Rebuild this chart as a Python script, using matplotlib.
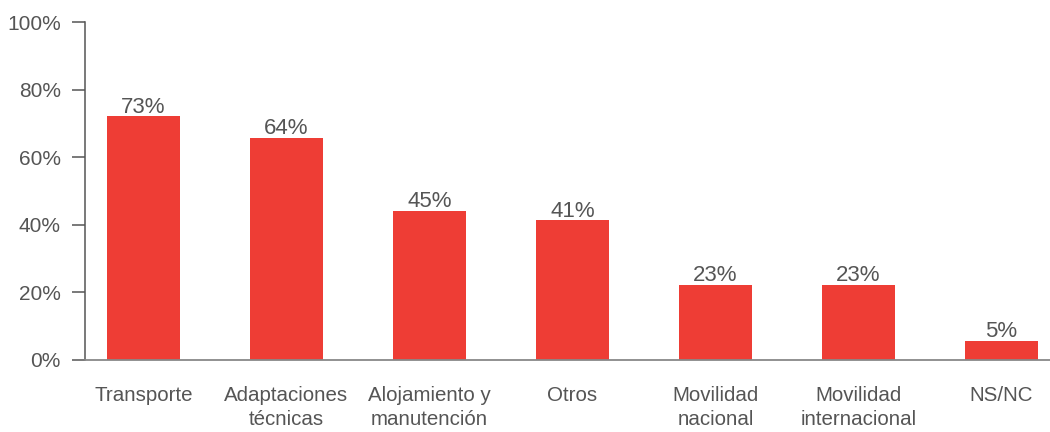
import matplotlib
matplotlib.use("Agg")
import matplotlib.pyplot as plt
import numpy as np

# data
categories = ["Transporte", "Adaptaciones\ntécnicas", "Alojamiento y\nmanutención",
              "Otros", "Movilidad\nnacional", "Movilidad\ninternacional", "NS/NC"]
bar_heights = [72.2, 65.8, 44.1, 41.4, 22.2, 22.2, 5.7]
bar_labels = ["73%", "64%", "45%", "41%", "23%", "23%", "5%"]
yticks = [0, 20, 40, 60, 80, 100]
ytick_labels = ["0%", "20%", "40%", "60%", "80%", "100%"]

red = "#EE3D35"
grey_txt = "#555555"

plt.rcParams["font.family"] = ["Liberation Sans", "DejaVu Sans"]

fig = plt.figure(figsize=(10.5, 4.32), dpi=100)
ax = fig.add_axes([0.081, 0.1667, 0.919, 0.7823])

x = np.arange(len(categories))
bars = ax.bar(x, bar_heights, width=0.51, color=red, zorder=2)

# value labels on top of bars
for b, lab in zip(bars, bar_labels):
    ax.annotate(lab, (b.get_x() + b.get_width() / 2, b.get_height()),
                xytext=(0, 2.5), textcoords="offset points",
                ha="center", va="baseline", fontsize=16, color=grey_txt)

ax.set_xlim(-0.409, 6.34)
ax.set_ylim(0, 100)
ax.set_yticks(yticks)
ax.set_yticklabels(ytick_labels)
ax.set_xticks(x)
ax.set_xticklabels(categories, linespacing=1.32)

ax.spines["top"].set_visible(False)
ax.spines["right"].set_visible(False)
ax.spines["left"].set_color("#555555")
ax.spines["bottom"].set_color("#888888")
ax.spines["left"].set_linewidth(1.1)
ax.spines["bottom"].set_linewidth(1.3)

ax.tick_params(axis="y", length=9.5, width=1.1, color="#555555", pad=8,
               labelsize=15, labelcolor=grey_txt)
ax.tick_params(axis="x", length=0, pad=19, labelsize=14.8, labelcolor=grey_txt)

fig.savefig("out.png", dpi=100)
